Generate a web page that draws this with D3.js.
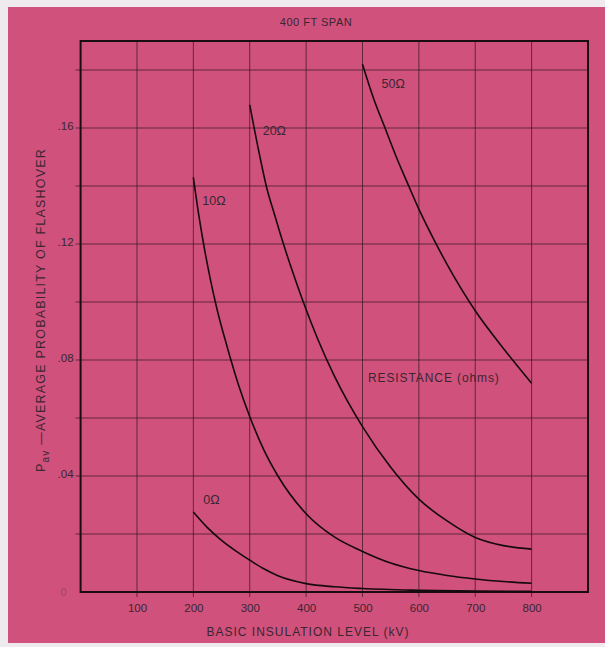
<!DOCTYPE html>
<html>
<head>
<meta charset="utf-8">
<script src="https://cdnjs.cloudflare.com/ajax/libs/d3/7.8.5/d3.min.js"></script>
<style>
	body { margin: 0; background: #efeaee; }
	svg text { font-family: "Liberation Sans", Arial, sans-serif; fill: #3a2631; }
	.axis path { display: none; }
	.axis text { font-size: 11.5px; }
</style>
</head>
<body>
<svg width="605" height="647"></svg>
<script>
var xTicks = [100, 200, 300, 400, 500, 600, 700, 800];
var yTicks = [0.04, 0.08, 0.12, 0.16];
var yTickLabels = ['.04', '.08', '.12', '.16'];
var yGrid = [0.02, 0.04, 0.06, 0.08, 0.10, 0.12, 0.14, 0.16, 0.18];

// BIL (kV) and probability for each resistance
var bil0 = [200, 225, 250, 275, 300, 325, 350, 400, 450, 500, 600, 700, 800];
var prob0 = [0.0276, 0.0222, 0.0178, 0.0142, 0.0110, 0.0080, 0.0056, 0.0029, 0.0018, 0.0012, 0.0006, 0.0003, 0.0002];

var bil10 = [200, 210, 220, 230, 242, 260, 280, 300, 325, 350, 400, 450, 500, 550, 600, 650, 700, 750, 800];
var prob10 = [0.143, 0.1295, 0.118, 0.108, 0.0975, 0.0845, 0.0715, 0.0605, 0.049, 0.040, 0.027, 0.019, 0.014, 0.010, 0.0074, 0.0057, 0.0045, 0.0036, 0.003];

var bil20 = [300, 315, 330, 345, 359, 375, 394, 420, 450, 500, 550, 600, 650, 700, 750, 800];
var prob20 = [0.168, 0.153, 0.1395, 0.1295, 0.1205, 0.111, 0.1005, 0.0875, 0.0745, 0.057, 0.043, 0.032, 0.0245, 0.0188, 0.016, 0.0148];

var bil50 = [500, 520, 540, 560, 582, 600, 628, 650, 700, 750, 800];
var prob50 = [0.182, 0.170, 0.160, 0.150, 0.140, 0.132, 0.121, 0.113, 0.097, 0.084, 0.072];

var curveLabels = ['0\u03A9', '10\u03A9', '20\u03A9', '50\u03A9'];

var svg = d3.select('svg');

// pink card
svg.append('rect')
	.attr('x', 8).attr('y', 7)
	.attr('width', 597).attr('height', 636)
	.attr('fill', '#d0517c');

var x = d3.scaleLinear().domain([0, 900]).range([80.6, 588]),
	y = d3.scaleLinear().domain([0, 0.19]).range([592, 41]);

var plotH = y(0) - y(0.19),
	plotW = x(900) - x(0);

// grid lines, a little past the frame like tick marks
svg.append('g')
	.selectAll('line.v')
	.data(xTicks).enter().append('line')
	.attr('x1', function(d) { return x(d); })
	.attr('x2', function(d) { return x(d); })
	.attr('y1', y(0.19))
	.attr('y2', y(0) + 5)
	.attr('stroke', '#3b1a28')
	.attr('stroke-opacity', 0.75)
	.attr('stroke-width', 1);

svg.append('g')
	.selectAll('line.h')
	.data(yGrid).enter().append('line')
	.attr('x1', x(0) - 5)
	.attr('x2', x(900))
	.attr('y1', function(d) { return y(d); })
	.attr('y2', function(d) { return y(d); })
	.attr('stroke', '#3b1a28')
	.attr('stroke-opacity', 0.75)
	.attr('stroke-width', 1);

// frame
svg.append('rect')
	.attr('x', x(0)).attr('y', y(0.19))
	.attr('width', plotW).attr('height', plotH)
	.attr('fill', 'none')
	.attr('stroke', '#1a0d12')
	.attr('stroke-width', 2);

// x axis labels
svg.append('g')
	.attr('class', 'axis')
	.attr('transform', 'translate(0,' + y(0) + ')')
	.call(d3.axisBottom(x).tickValues(xTicks).tickSize(0).tickPadding(12))
	.selectAll('text').attr('fill', '#3a2631');

// y axis labels
svg.append('g')
	.attr('class', 'axis')
	.attr('transform', 'translate(' + x(0) + ',0)')
	.call(d3.axisLeft(y).tickValues(yTicks).tickSize(0).tickPadding(7)
		.tickFormat(function(d, i) { return yTickLabels[i]; }))
	.selectAll('text').attr('fill', '#3a2631').attr('dy', '0.1em');

svg.append('text')
	.attr('x', x(0) - 14).attr('y', y(0) + 4)
	.attr('font-size', 11)
	.attr('text-anchor', 'end')
	.attr('fill-opacity', 0.35)
	.text('0');

// curves
var line = d3.line()
	.x(function(d) { return x(d[0]); })
	.y(function(d) { return y(d[1]); })
	.curve(d3.curveMonotoneX);

var curves = [
	d3.zip(bil0, prob0),
	d3.zip(bil10, prob10),
	d3.zip(bil20, prob20),
	d3.zip(bil50, prob50)
];

svg.append('g')
	.selectAll('path')
	.data(curves).enter().append('path')
	.attr('d', line)
	.attr('fill', 'none')
	.attr('stroke', '#150a0e')
	.attr('stroke-width', 1.6);

// curve labels, just right of where each curve starts
var labelOffsets = [[10, -8], [9, 28], [13, 30], [19, 24]];
svg.append('g')
	.selectAll('text')
	.data(curves).enter().append('text')
	.attr('x', function(d, i) { return x(d[0][0]) + labelOffsets[i][0]; })
	.attr('y', function(d, i) { return y(d[0][1]) + labelOffsets[i][1]; })
	.attr('font-size', 12.5)
	.text(function(d, i) { return curveLabels[i]; });

svg.append('text')
	.attr('x', 368).attr('y', 382)
	.attr('font-size', 12)
	.attr('letter-spacing', 0.9)
	.text('RESISTANCE (ohms)');

svg.append('text')
	.attr('x', 316).attr('y', 26)
	.attr('font-size', 11)
	.attr('text-anchor', 'middle')
	.attr('letter-spacing', 0.5)
	.text('400 FT SPAN');

svg.append('text')
	.attr('x', 308).attr('y', 636)
	.attr('font-size', 12)
	.attr('text-anchor', 'middle')
	.attr('letter-spacing', 1)
	.text('BASIC INSULATION LEVEL (kV)');

// rotated y title with P subscript av
var yTitle = svg.append('text')
	.attr('transform', 'translate(45,472) rotate(-90)')
	.attr('font-size', 12.5)
	.attr('letter-spacing', 1.2);
yTitle.append('tspan').text('P');
yTitle.append('tspan').attr('dy', 4).attr('font-size', 10).text('av');
yTitle.append('tspan').attr('dy', -4).text(' \u2014AVERAGE PROBABILITY OF FLASHOVER');
</script>
</body>
</html>
